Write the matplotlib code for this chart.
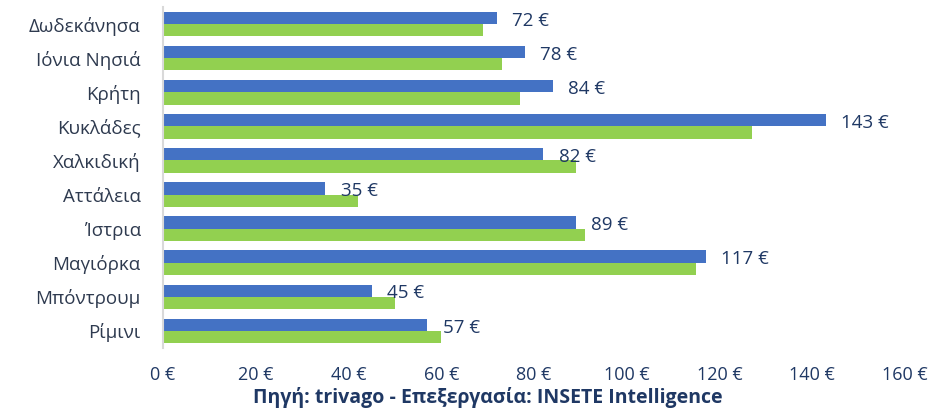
import matplotlib
matplotlib.use("Agg")
import matplotlib.pyplot as plt
import numpy as np

categories = ["Δωδεκάνησα", "Ιόνια Νησιά", "Κρήτη", "Κυκλάδες", "Χαλκιδική",
              "Αττάλεια", "Ίστρια", "Μαγιόρκα", "Μπόντρουμ", "Ρίμινι"]
blue_values = [72, 78, 84, 143, 82, 35, 89, 117, 45, 57]
green_values = [69, 73, 77, 127, 89, 42, 91, 115, 50, 60]
xticks = [0, 20, 40, 60, 80, 100, 120, 140, 160]
source_text = "Πηγή: trivago - Επεξεργασία: INSETE Intelligence"

plt.rcParams['font.family'] = ['Open Sans', 'DejaVu Sans']

fig = plt.figure(figsize=(9.34, 4.09), dpi=100)
ax = fig.add_axes([163/934, 1-348/409, (905-163)/934, (348-7)/409])

y = np.arange(len(categories))
h = 0.36
blue = "#4472C4"
green = "#92D050"
ax.barh(y - h/2, blue_values, height=h, color=blue, zorder=2)
ax.barh(y + h/2, green_values, height=h, color=green, zorder=2)

for yi, v in zip(y, blue_values):
    ax.annotate(f"{v} €", xy=(v, yi - h/2 + 0.08), xytext=(11, 0), textcoords="offset points",
                va="center", ha="left", fontsize=13.5, color="#1F3864")

ax.set_ylim(len(categories) - 0.5, -0.5)
ax.set_xlim(0, 160)
ax.set_yticks(y)
ax.set_yticklabels(categories, fontsize=13.5, color="#2E3A4F")
ax.set_xticks(xticks)
ax.set_xticklabels([f"{t} €" for t in xticks], fontsize=13, color="#1F3864")
ax.tick_params(axis="y", length=0, pad=16)
ax.tick_params(axis="x", length=0, pad=13)
for s in ["top", "right", "bottom"]:
    ax.spines[s].set_visible(False)
ax.spines["left"].set_color("#D9D9D9")
ax.spines["left"].set_linewidth(1.5)

fig.text(488/934, 1-398/409, source_text, ha="center", va="center",
         fontsize=14, fontweight="bold", color="#1F3864")

fig.savefig("out.png", dpi=100)
